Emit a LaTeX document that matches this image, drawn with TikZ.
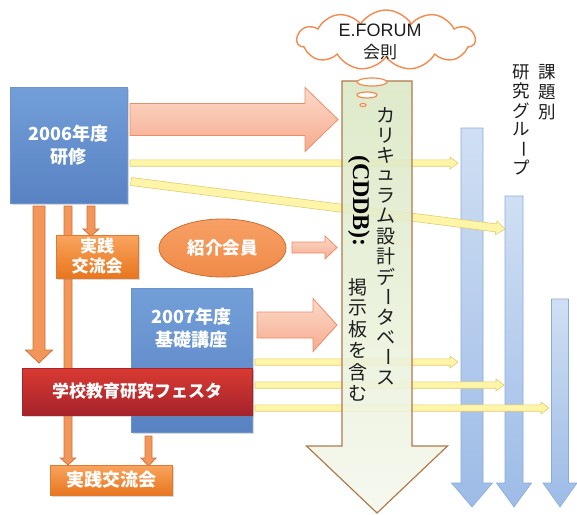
\documentclass[tikz,border=0pt]{standalone}
\usepackage{fontspec}
\usepackage{graphicx}
\setmainfont{Noto Sans CJK JP}
\newfontfamily\latinsans{Liberation Sans}
\newfontfamily\latinserif{Liberation Serif}
\usetikzlibrary{shapes.symbols,shapes.geometric,shadows}
\definecolor{boxblueT}{HTML}{739FD9}
\definecolor{boxblueB}{HTML}{5882C2}
\definecolor{boxblueD}{HTML}{6A94CF}
\definecolor{orT}{HTML}{F9A45E}
\definecolor{orB}{HTML}{E8761E}
\definecolor{orD}{HTML}{E07A30}
\definecolor{elT}{HTML}{F7A065}
\definecolor{elB}{HTML}{F08A48}
\definecolor{elD}{HTML}{D06C2C}
\definecolor{redT}{HTML}{D93A32}
\definecolor{redB}{HTML}{A6232B}
\definecolor{salT}{HTML}{FCDACA}
\definecolor{salB}{HTML}{F6AB8E}
\definecolor{salD}{HTML}{EC8D66}
\definecolor{yelF}{HTML}{FFF5A8}
\definecolor{yelD}{HTML}{E3CB6E}
\definecolor{lbT}{HTML}{D0DFF3}
\definecolor{lbB}{HTML}{9CBBE6}
\definecolor{lbD}{HTML}{8AACDC}
\definecolor{oaF}{HTML}{F4955A}
\definecolor{oaD}{HTML}{C9733E}
\definecolor{grT}{HTML}{DAE7C3}
\definecolor{grB}{HTML}{F4F8EC}
\definecolor{grD}{HTML}{B07A4A}
\definecolor{cloudD}{HTML}{F58A4E}
\definecolor{txtgrey}{HTML}{1E1E1E}
% horizontal block arrow: x0, xtip, yc, shaft half, head half, head length, style
\newcommand\harrow[7]{\path[#7] (#1,#3-#4) -- (#2-#6,#3-#4) -- (#2-#6,#3-#5) -- (#2,#3) -- (#2-#6,#3+#5) -- (#2-#6,#3+#4) -- (#1,#3+#4) -- cycle;}
% vertical block arrow: xc, ytop, ytip, shaft half, head half, head length, style
\newcommand\varrow[7]{\path[#7] (#1-#4,#2) -- (#1+#4,#2) -- (#1+#4,#3-#6) -- (#1+#5,#3-#6) -- (#1,#3) -- (#1-#5,#3-#6) -- (#1-#4,#3-#6) -- cycle;}
\begin{document}
\begin{tikzpicture}[x=1pt,y=-1pt,
  boxshadow/.style={drop shadow={opacity=0.3,shadow xshift=2pt,shadow yshift=-2pt}},
  bluebox/.style={rectangle,top color=boxblueT,bottom color=boxblueB,draw=boxblueD,line width=0.6pt,boxshadow},
  orangebox/.style={rectangle,top color=orT,bottom color=orB,draw=orD,line width=0.6pt,boxshadow},
  redbox/.style={rectangle,top color=redT,bottom color=redB,draw=redB,line width=0.6pt,boxshadow},
  whitetext/.style={text=white,align=center,font=\bfseries\fontsize{18}{23}\selectfont},
  salarrow/.style={top color=salT,bottom color=salB,draw=salD,line width=0.8pt},
  yelarrow/.style={fill=yelF,draw=yelD,line width=0.6pt},
  bluearrow/.style={top color=lbT,bottom color=lbB,draw=lbD,line width=0.6pt},
  orarrow/.style={fill=oaF,draw=oaD,line width=0.8pt},
  greenarrow/.style={top color=grT,bottom color=grB,draw=grD,line width=1.2pt,fill opacity=0.88},
  vjp/.style={inner sep=0pt,text=txtgrey,font=\fontsize{19}{19}\selectfont},
  vsmall/.style={inner sep=0pt,text=txtgrey,font=\fontsize{17.5}{17.5}\selectfont}
]
\useasboundingbox (0,0) rectangle (577,514);

% orange down arrows (behind boxes)
\varrow{39}{206}{363}{6}{13.5}{13}{orarrow}
\varrow{68}{206}{465}{4}{7.5}{7}{orarrow}
\varrow{91}{206}{236}{4}{8}{7}{orarrow}
\varrow{148.5}{436}{466}{3.5}{7.5}{8}{orarrow}

% research group arrows
\varrow{472}{128}{507}{11}{20.5}{24}{bluearrow}
\varrow{514}{196}{507}{9}{17.5}{24}{bluearrow}
\varrow{560}{299}{507}{8.5}{17}{24}{bluearrow}

% yellow arrows
\harrow{130}{458}{163}{3.2}{6}{8}{yelarrow}
\begin{scope}[shift={(131,181.5)},rotate=-7.24]
\harrow{0}{377}{0}{4}{7}{9}{yelarrow}
\end{scope}
\harrow{255}{458}{362}{3.2}{6}{8}{yelarrow}
\harrow{255}{504}{385}{3.2}{6}{8}{yelarrow}
\harrow{255}{549}{408}{3.2}{6}{8}{yelarrow}

% salmon arrows
\harrow{130}{338}{119.5}{16}{32}{33}{salarrow}
\harrow{292}{337}{247.5}{5.5}{11.5}{12}{salarrow}
\harrow{257}{337}{325}{13}{26.5}{24}{salarrow}

% big green arrow
\varrow{377}{81}{513}{35}{70.5}{67}{greenarrow}

% vertical text in green arrow
\foreach \c/\r [count=\i from 0] in {カ/0,リ/0,キ/0,ュ/0,ラ/0,ム/0,設/0,計/0,デ/0,ー/-90,タ/0,ベ/0,ー/-90,ス/0}
  \node[vjp,rotate=\r] (cr\i) at (386,115+20.2*\i) {\c};
\node[inner sep=0pt,rotate=-90,text=black,font=\latinserif\bfseries\fontsize{24}{24}\selectfont] (cddb) at (359,201) {(CDDB):};
\foreach \c [count=\i from 0] in {掲,示,板,を,含,む}
  \node[vjp] (cl\i) at (358,287+21.2*\i) {\c};

% title of research groups
\foreach \c [count=\i from 0] in {課,題,別}
  \node[vsmall] (ka\i) at (547,72+20*\i) {\c};
\foreach \c/\r [count=\i from 0] in {研/0,究/0,グ/0,ル/0,ー/-90,プ/0}
  \node[vsmall,rotate=\r] (ke\i) at (521,72+19.2*\i) {\c};

% cloud
\node[cloud,cloud puffs=11,cloud puff arc=115,aspect=3,draw=cloudD,line width=1.4pt,fill=white,minimum width=178pt,minimum height=60pt,inner sep=0pt] (cloud) at (386,40) {};
\node[align=center,inner sep=0pt,text=txtgrey] (cloudtext) at (380,42) {{\latinsans\fontsize{18}{18}\selectfont E.FORUM}\\[7pt]{\fontsize{17}{17}\selectfont 会則}};
\draw[cloudD,line width=1.2pt,fill=white] (372,82) ellipse [x radius=15,y radius=4];
\draw[cloudD,line width=1.2pt,fill=white] (367,95) ellipse [x radius=10,y radius=3];
\draw[cloudD,line width=1.2pt,fill=white] (363,105) ellipse [x radius=3,y radius=1.5];

% boxes
\node[bluebox,minimum width=117pt,minimum height=116pt,whitetext] (b2006) at (68.5,145) {2006年度\\研修};
\node[orangebox,minimum width=82pt,minimum height=41pt,whitetext,font=\bfseries\fontsize{17}{20}\selectfont] (jissen1) at (97,256.5) {実践\\交流会};
\node[ellipse,top color=elT,bottom color=elB,draw=elD,line width=0.8pt,minimum width=127pt,minimum height=58pt,whitetext,font=\bfseries\fontsize{17.5}{20}\selectfont] (shokai) at (222.5,248) {紹介会員};
\node[bluebox,minimum width=121pt,minimum height=144pt] (b2007) at (191.5,360) {};
\node[whitetext,inner sep=0pt] (b2007t) at (191.5,328.5) {2007年度\\基礎講座};
\node[redbox,minimum width=230pt,minimum height=47pt,whitetext,font=\bfseries\fontsize{17}{20}\selectfont] (festa) at (137,391.5) {学校教育研究フェスタ};
\node[orangebox,minimum width=122pt,minimum height=30pt,whitetext,font=\bfseries\fontsize{18}{20}\selectfont] (jissen2) at (111,480) {実践交流会};
\end{tikzpicture}
\end{document}
